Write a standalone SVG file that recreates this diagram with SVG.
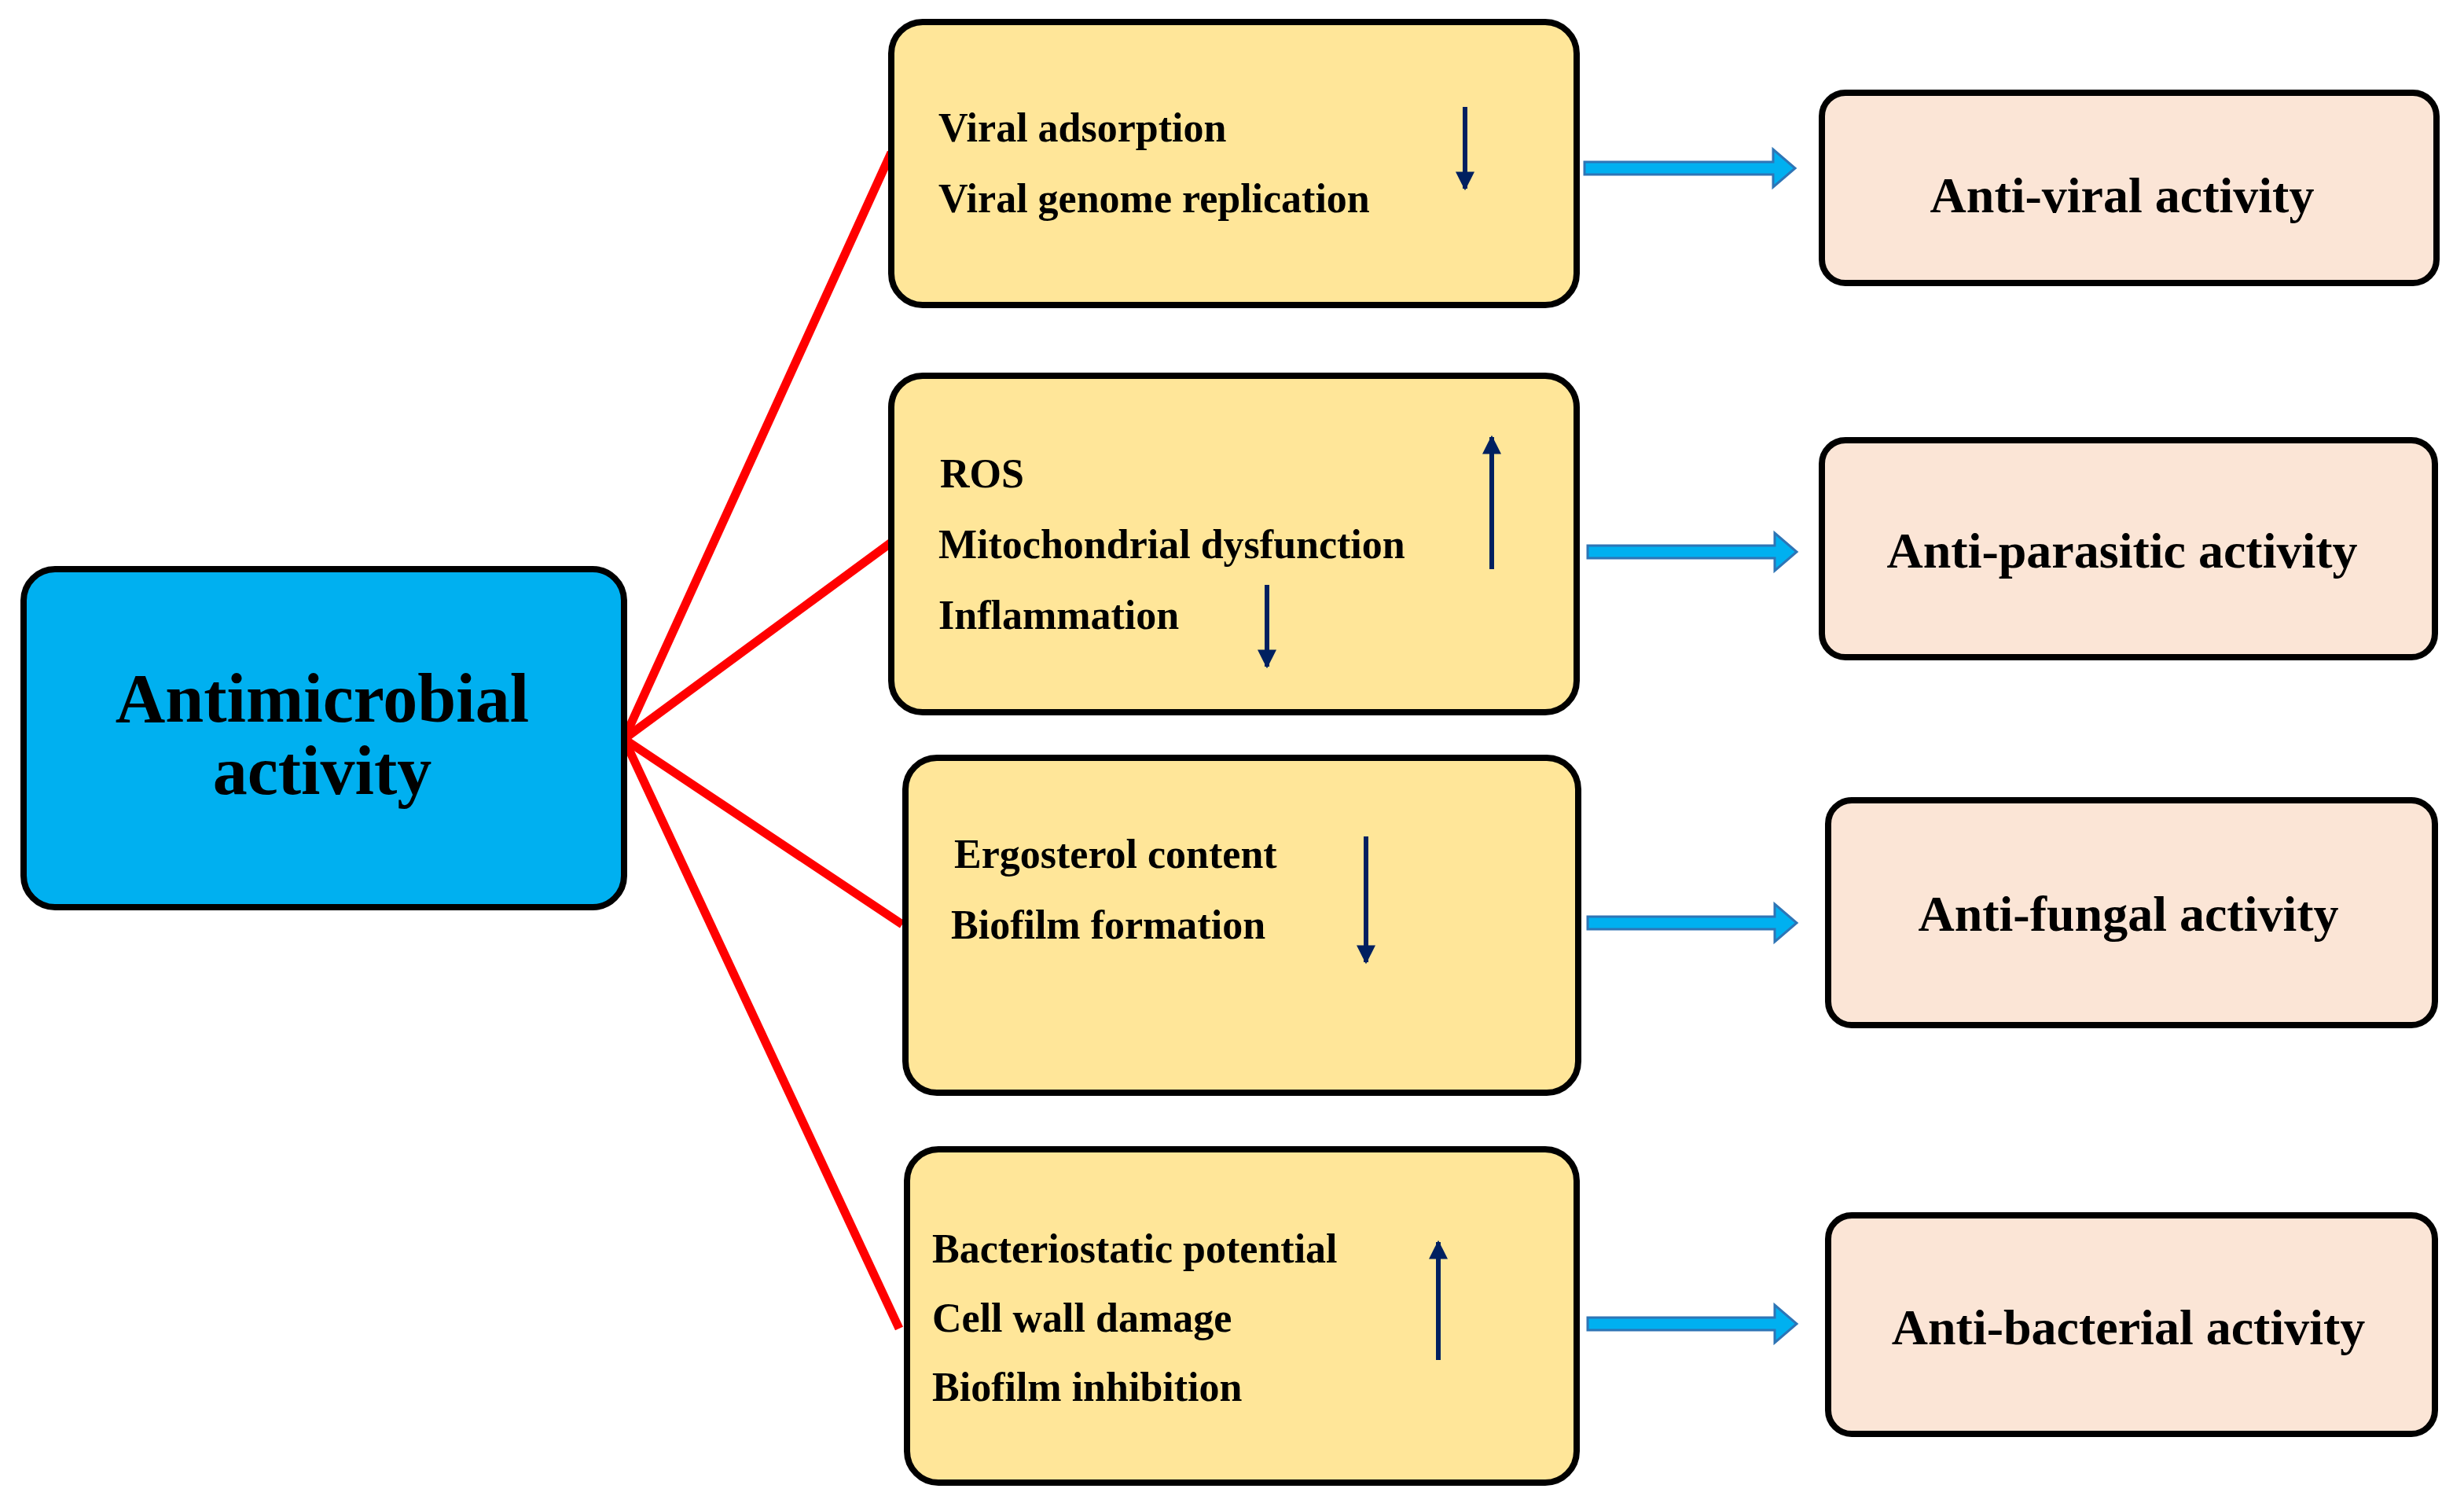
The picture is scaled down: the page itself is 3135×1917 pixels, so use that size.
<svg xmlns="http://www.w3.org/2000/svg" width="3135" height="1917" viewBox="0 0 3135 1917">
<defs>
<style>
.box{stroke:#000;stroke-width:8}
.y{fill:#FFE699}
.p{fill:#FBE5D6}
.t{font-family:"Liberation Serif",serif;font-weight:bold;fill:#000}
.s{font-size:52px}
.r{font-size:64px;text-anchor:middle}
.red{stroke:#FF0000;stroke-width:11;fill:none}
.dk{stroke:#002060;stroke-width:6;fill:none}
.bl{fill:#00B0F0;stroke:#2E75B6;stroke-width:3}
</style>
<marker id="ah" viewBox="0 0 10 10" refX="9" refY="5" markerWidth="4" markerHeight="4" orient="auto" markerUnits="strokeWidth"><path d="M0,0 L10,5 L0,10 z" fill="#002060"/></marker>
</defs>
<g id="connectors">
<line class="red" x1="794" y1="940" x2="1134" y2="194"/>
<line class="red" x1="794" y1="940" x2="1134" y2="690"/>
<line class="red" x1="794" y1="940" x2="1148" y2="1176"/>
<line class="red" x1="794" y1="940" x2="1144" y2="1690"/>
<path class="bl" d="M2016,206 h240 v-16 l28,24 l-28,24 v-16 h-240 z"/>
<path class="bl" d="M2020,694 h238 v-16 l28,24 l-28,24 v-16 h-238 z"/>
<path class="bl" d="M2020,1166 h238 v-16 l28,24 l-28,24 v-16 h-238 z"/>
<path class="bl" d="M2020,1676 h238 v-16 l28,24 l-28,24 v-16 h-238 z"/>
</g>
<g id="main">
<rect class="box" x="30" y="724" width="764" height="430" rx="40" fill="#00B0F0"/>
<text class="t" x="410" y="918" font-size="88" text-anchor="middle">Antimicrobial</text>
<text class="t" x="410" y="1010" font-size="88" text-anchor="middle">activity</text>
</g>
<g id="viral-mech">
<rect class="box y" x="1134" y="28" width="872" height="360" rx="40"/>
<text class="t s" x="1194" y="180">Viral adsorption</text>
<text class="t s" x="1194" y="270">Viral genome replication</text>
<line class="dk" x1="1864" y1="136" x2="1864" y2="240" marker-end="url(#ah)"/>
</g>
<g id="parasitic-mech">
<rect class="box y" x="1134" y="478" width="872" height="428" rx="40"/>
<text class="t s" x="1196" y="620">ROS</text>
<text class="t s" x="1194" y="710">Mitochondrial dysfunction</text>
<text class="t s" x="1194" y="800">Inflammation</text>
<line class="dk" x1="1898" y1="724" x2="1898" y2="556" marker-end="url(#ah)"/>
<line class="dk" x1="1612" y1="744" x2="1612" y2="848" marker-end="url(#ah)"/>
</g>
<g id="fungal-mech">
<rect class="box y" x="1152" y="964" width="856" height="426" rx="40"/>
<text class="t s" x="1214" y="1104">Ergosterol content</text>
<text class="t s" x="1210" y="1194">Biofilm formation</text>
<line class="dk" x1="1738" y1="1064" x2="1738" y2="1224" marker-end="url(#ah)"/>
</g>
<g id="bacterial-mech">
<rect class="box y" x="1154" y="1462" width="852" height="424" rx="40"/>
<text class="t s" x="1186" y="1606">Bacteriostatic potential</text>
<text class="t s" x="1186" y="1694">Cell wall damage</text>
<text class="t s" x="1186" y="1782">Biofilm inhibition</text>
<line class="dk" x1="1830" y1="1730" x2="1830" y2="1580" marker-end="url(#ah)"/>
</g>
<g id="antiviral">
<rect class="box p" x="2318" y="118" width="782" height="242" rx="30"/>
<text class="t r" x="2700" y="270">Anti-viral activity</text>
</g>
<g id="antiparasitic">
<rect class="box p" x="2318" y="560" width="780" height="276" rx="30"/>
<text class="t r" x="2700" y="722">Anti-parasitic activity</text>
</g>
<g id="antifungal">
<rect class="box p" x="2326" y="1018" width="772" height="286" rx="30"/>
<text class="t r" x="2708" y="1184">Anti-fungal activity</text>
</g>
<g id="antibacterial">
<rect class="box p" x="2326" y="1546" width="772" height="278" rx="30"/>
<text class="t r" x="2708" y="1710">Anti-bacterial activity</text>
</g>
</svg>
